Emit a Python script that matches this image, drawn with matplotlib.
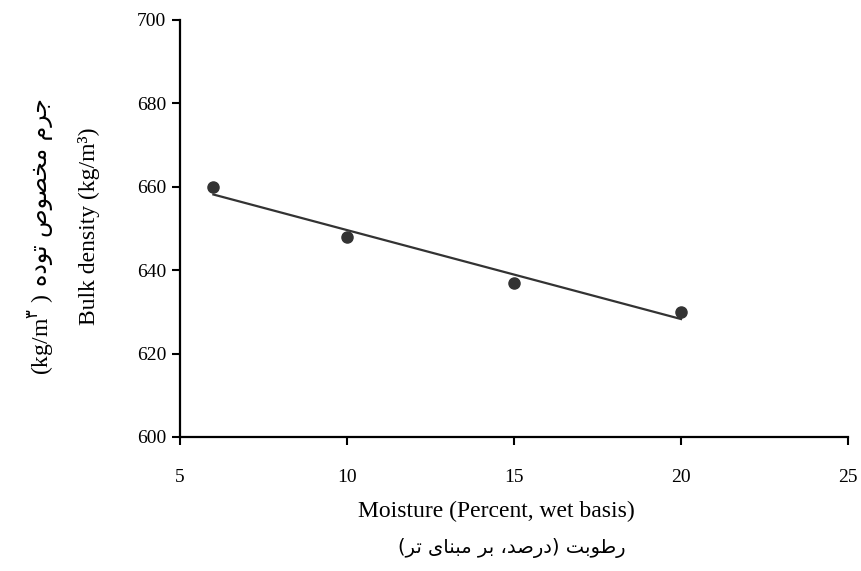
import matplotlib
matplotlib.use("Agg")
import matplotlib.pyplot as plt
import numpy as np

moisture = [6, 10, 15, 20]
density = [660, 648, 637, 630]
x_ticks = [5, 10, 15, 20, 25]
y_ticks = [600, 620, 640, 660, 680, 700]

label_x_en = "Moisture (Percent, wet basis)"
label_x_fa = "رطوبت (درصد، بر مبنای تر)"
label_y_en = "Bulk density (kg/m³)"
label_y_fa = "جرم مخصوص توده"
label_y_unit = r"(kg/m$^{\mathrm{۳}}$ )"

# isolated, final, initial, medial (presentation forms)
FORMS = {
    'ا': ('\uFE8D', '\uFE8E', None, None),
    'ب': ('\uFE8F', '\uFE90', '\uFE91', '\uFE92'),
    'ت': ('\uFE95', '\uFE96', '\uFE97', '\uFE98'),
    'ج': ('\uFE9D', '\uFE9E', '\uFE9F', '\uFEA0'),
    'خ': ('\uFEA5', '\uFEA6', '\uFEA7', '\uFEA8'),
    'د': ('\uFEA9', '\uFEAA', None, None),
    'ر': ('\uFEAD', '\uFEAE', None, None),
    'ص': ('\uFEB9', '\uFEBA', '\uFEBB', '\uFEBC'),
    'ط': ('\uFEC1', '\uFEC2', '\uFEC3', '\uFEC4'),
    'م': ('\uFEE1', '\uFEE2', '\uFEE3', '\uFEE4'),
    'ن': ('\uFEE5', '\uFEE6', '\uFEE7', '\uFEE8'),
    'ه': ('\uFEE9', '\uFEEA', '\uFEEB', '\uFEEC'),
    'و': ('\uFEED', '\uFEEE', None, None),
    'ی': ('\uFBFC', '\uFBFD', '\uFBFE', '\uFBFF'),
}


def shape(s):
    out = []
    for i, ch in enumerate(s):
        if ch not in FORMS:
            out.append(ch)
            continue
        iso, fin, ini, med = FORMS[ch]
        prev = s[i - 1] if i > 0 else ''
        nxt = s[i + 1] if i + 1 < len(s) else ''
        join_prev = prev in FORMS and FORMS[prev][2] is not None
        join_next = ini is not None and nxt in FORMS
        if join_prev and join_next:
            out.append(med)
        elif join_prev:
            out.append(fin)
        elif join_next:
            out.append(ini)
        else:
            out.append(iso)
    return ''.join(out)


def visual(s):
    r = shape(s)[::-1]
    return r.translate(str.maketrans('()', ')('))


plt.rcParams['font.family'] = ['Liberation Serif', 'DejaVu Sans']
plt.rcParams['mathtext.fontset'] = 'custom'
plt.rcParams['mathtext.rm'] = 'DejaVu Sans'

fig = plt.figure(figsize=(8.62, 5.71), dpi=100)
ax = fig.add_axes([0.2088, 0.2347, 0.775, 0.7303])

coef = np.polyfit(moisture, density, 1)
xs = np.array([min(moisture), max(moisture)])
ax.plot(xs, np.polyval(coef, xs), color='#333333', lw=1.6, zorder=2)
ax.plot(moisture, density, 'o', color='#333333', ms=8, zorder=3)

ax.set_xlim(5, 25)
ax.set_ylim(600, 700)
ax.set_xticks(x_ticks)
ax.set_yticks(y_ticks)
for s in ['top', 'right']:
    ax.spines[s].set_visible(False)
for s in ['left', 'bottom']:
    ax.spines[s].set_linewidth(1.6)
ax.tick_params(axis='both', direction='out', length=6, width=1.5, labelsize=14)
ax.tick_params(axis='x', pad=17)
ax.tick_params(axis='y', pad=4)

fig.text(0.5754, 0.104, label_x_en, ha='center', va='center', fontsize=17)
fig.text(0.594, 0.040, visual(label_x_fa), ha='center', va='center',
         fontsize=14, family='DejaVu Sans')
fig.text(0.103, 0.604, label_y_en, ha='center', va='center', rotation=90, fontsize=17)

unit = fig.text(0.049, 0.343, label_y_unit, ha='center', va='bottom',
                rotation=90, fontsize=17)
fig.canvas.draw()
bb = unit.get_window_extent().transformed(fig.transFigure.inverted())
fig.text(0.047, bb.y1 + 0.014, visual(label_y_fa), ha='center', va='bottom',
         rotation=90, fontsize=17, family='DejaVu Sans')

fig.savefig("out.png", dpi=100)
